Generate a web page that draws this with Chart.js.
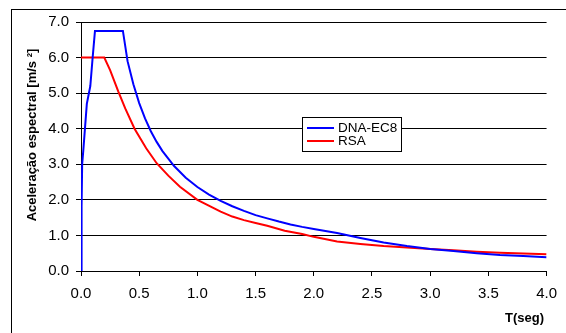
<!DOCTYPE html>
<html>
<head>
<meta charset="utf-8">
<script src="https://cdn.jsdelivr.net/npm/chart.js@4.4.1/dist/chart.umd.min.js"></script>
<style>
  html, body { margin: 0; padding: 0; background: #fff; overflow: hidden; }
  #wrap { position: relative; width: 566px; height: 333px; }
  #frame { position: absolute; left: 11px; top: 9px; width: 620px; height: 400px; border: 1px solid #000; box-sizing: border-box; }
  canvas { position: absolute; left: 0; top: 0; }
</style>
</head>
<body>
<div id="wrap">
  <div id="frame"></div>
  <canvas id="c" width="566" height="333"></canvas>
</div>
<script>
// Periods (s) and spectral accelerations (m/s²)
const periodsEC8 = [0, 0.005, 0.01, 0.02, 0.05, 0.08, 0.10, 0.12, 0.36, 0.40, 0.45, 0.50, 0.55, 0.60, 0.65, 0.70, 0.80, 0.90, 1.00, 1.10, 1.20, 1.30, 1.40, 1.50, 1.60, 1.70, 1.80, 1.90, 2.00, 2.20, 2.40, 2.60, 2.80, 3.00, 3.20, 3.40, 3.60, 3.80, 4.00];
const accelEC8   = [0, 1.8, 3.0, 3.4, 4.7, 5.2, 6.0, 6.75, 6.75, 5.9, 5.25, 4.72, 4.29, 3.93, 3.63, 3.37, 2.95, 2.62, 2.36, 2.15, 1.97, 1.82, 1.69, 1.57, 1.48, 1.39, 1.31, 1.24, 1.18, 1.07, 0.93, 0.80, 0.70, 0.62, 0.56, 0.50, 0.45, 0.42, 0.39];

const periodsRSA = [0, 0.20, 0.25, 0.32, 0.38, 0.46, 0.56, 0.65, 0.75, 0.85, 1.00, 1.20, 1.30, 1.40, 1.50, 1.60, 1.75, 1.90, 2.00, 2.20, 2.40, 2.60, 2.80, 3.00, 3.20, 3.40, 3.60, 3.80, 4.00];
const accelRSA   = [6.0, 6.0, 5.65, 5.05, 4.57, 4.0, 3.45, 3.03, 2.68, 2.37, 2.0, 1.67, 1.53, 1.43, 1.35, 1.27, 1.13, 1.04, 0.96, 0.83, 0.76, 0.70, 0.66, 0.62, 0.58, 0.54, 0.51, 0.49, 0.47];

const seriesNames = ['DNA-EC8', 'RSA'];
const xTitle = 'T(seg)';
const yTitle = 'Aceleração espectral [m/s ²]';

const toPoints = (xs, ys) => xs.map((x, i) => ({ x: x, y: ys[i] }));

const FONT = 'Liberation Sans, Arial, sans-serif';

// Axis titles and the boxed legend inside the plot
const decorations = {
  id: 'decorations',
  afterDraw(chart) {
    const ctx = chart.ctx;
    ctx.save();
    ctx.fillStyle = '#000';
    ctx.font = 'bold 13px ' + FONT;
    ctx.textAlign = 'right';
    ctx.textBaseline = 'middle';
    ctx.fillText(xTitle, 544, 318);

    ctx.translate(32, 135);
    ctx.rotate(-Math.PI / 2);
    ctx.textAlign = 'center';
    ctx.fillText(yTitle, 0, 0);
    ctx.restore();

    // legend
    ctx.save();
    const bx = 302, by = 117, bw = 99, bh = 34;
    ctx.fillStyle = '#fff';
    ctx.fillRect(bx, by, bw, bh);
    ctx.strokeStyle = '#000';
    ctx.lineWidth = 1;
    ctx.strokeRect(bx + 0.5, by + 0.5, bw, bh);
    ctx.font = '13.5px ' + FONT;
    ctx.textAlign = 'left';
    ctx.textBaseline = 'middle';
    chart.data.datasets.forEach((ds, i) => {
      const y = by + 11 + i * 13;
      ctx.strokeStyle = ds.borderColor;
      ctx.lineWidth = 2;
      ctx.beginPath();
      ctx.moveTo(bx + 5, y);
      ctx.lineTo(bx + 32, y);
      ctx.stroke();
      ctx.fillStyle = '#000';
      ctx.fillText(ds.label, bx + 36, y);
    });
    ctx.restore();
  }
};

new Chart(document.getElementById('c'), {
  type: 'scatter',
  data: {
    datasets: [
      { label: seriesNames[0], data: toPoints(periodsEC8, accelEC8), showLine: true, borderColor: '#0000ff', borderWidth: 2, pointRadius: 0, tension: 0 },
      { label: seriesNames[1], data: toPoints(periodsRSA, accelRSA), showLine: true, borderColor: '#ff0000', borderWidth: 2, pointRadius: 0, tension: 0 }
    ]
  },
  options: {
    responsive: false,
    animation: false,
    layout: { padding: { left: 0, top: 22, right: 19, bottom: 0 } },
    plugins: { legend: { display: false }, tooltip: { enabled: false } },
    scales: {
      x: {
        type: 'linear', min: 0, max: 4,
        afterFit(s) { s.height = 62; },
        ticks: { stepSize: 0.5, color: '#000', padding: 9, font: { family: FONT, size: 15 }, callback: v => v.toFixed(1), maxRotation: 0 },
        grid: { drawOnChartArea: false, drawTicks: true, tickLength: 5, color: '#000' },
        border: { color: '#000', width: 1 }
      },
      y: {
        min: 0, max: 7,
        afterFit(s) { s.width = 81; },
        ticks: { stepSize: 1, color: '#000', padding: 7, font: { family: FONT, size: 15 }, callback: v => v.toFixed(1) },
        grid: { color: '#000', lineWidth: 1, tickLength: 5 },
        border: { color: '#000', width: 1 }
      }
    }
  },
  plugins: [decorations]
});
</script>
</body>
</html>
